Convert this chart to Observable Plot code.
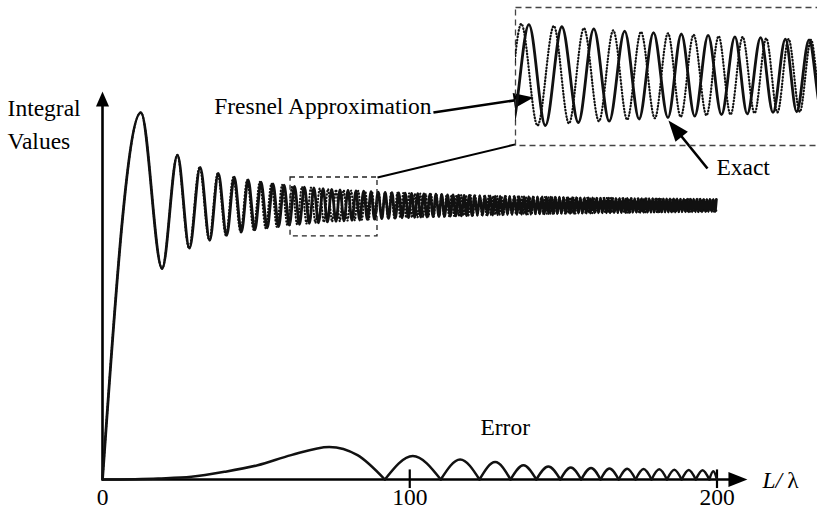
<!DOCTYPE html>
<html><head><meta charset="utf-8">
<script src="https://cdn.jsdelivr.net/npm/d3@7"></script>
<script src="https://cdn.jsdelivr.net/npm/@observablehq/plot@0.6"></script>
<style>
html,body{margin:0;padding:0;background:#fff;overflow:hidden;}
#wrap{position:relative;width:817px;height:510px;overflow:hidden;background:#fff;}
#insetBox{position:absolute;left:513px;top:5px;width:330px;height:142px;}
</style></head><body><div id="wrap"><div id="mainBox"></div><div id="insetBox"></div></div>
<script>
// ---- Exact integral: extrema (L/lambda, value) ----
const exactX = [0, 12.5, 19.4,
 24.4, 28.3, 31.8, 34.9, 37.7, 40.4, 42.9, 45.2, 47.4, 49.6, 51.6,
 53.6, 55.5, 57.3, 59.1, 60.8, 62.5, 64.1, 65.7, 67.3, 68.8,
 70.3, 71.8, 73.2, 74.6, 76.0, 77.3, 78.6, 79.9, 81.2, 82.5,
 83.7, 85.0, 86.2, 87.4, 88.5, 89.7, 90.9, 92.0, 93.1, 94.2,
 95.3, 96.4, 97.5, 98.5, 99.6, 100.6, 101.6, 102.6, 103.6, 104.6,
 105.6, 106.6, 107.6, 108.5, 109.5, 110.4, 111.3, 112.3, 113.2, 114.1,
 115.0, 115.9, 116.8, 117.7, 118.5, 119.4, 120.3, 121.1, 122.0, 122.8,
 123.7, 124.5, 125.3, 126.2, 127.0, 127.8, 128.6, 129.4, 130.2, 131.0,
 131.8, 132.5, 133.3, 134.1, 134.9, 135.6, 136.4, 137.2, 137.9, 138.7,
 139.4, 140.1, 140.9, 141.6, 142.3, 143.1, 143.8, 144.5, 145.2, 145.9,
 146.6, 147.3, 148.0, 148.7, 149.4, 150.1, 150.8, 151.5, 152.2, 152.9,
 153.5, 154.2, 154.9, 155.5, 156.2, 156.9, 157.5, 158.2, 158.8, 159.5,
 160.1, 160.8, 161.4, 162.1, 162.7, 163.3, 164.0, 164.6, 165.2, 165.8,
 166.5, 167.1, 167.7, 168.3, 168.9, 169.5, 170.2, 170.8, 171.4, 172.0,
 172.6, 173.2, 173.8, 174.4, 175.0, 175.5, 176.1, 176.7, 177.3, 177.9,
 178.5, 179.1, 179.6, 180.2, 180.8, 181.3, 181.9, 182.5, 183.1, 183.6,
 184.2, 184.7, 185.3, 185.9, 186.4, 187.0, 187.5, 188.1, 188.6, 189.2,
 189.7, 190.3, 190.8, 191.3, 191.9, 192.4, 193.0, 193.5, 194.0, 194.6,
 195.1, 195.6, 196.2, 196.7, 197.2, 197.7, 198.3, 198.8, 199.3, 199.8];
const exactY = [0, 133.9, 77.0,
 118.4, 84.4, 113.9, 87.3, 111.7, 89.1, 110.3, 90.3, 109.3, 91.1, 108.5,
 91.8, 107.9, 92.3, 107.4, 92.8, 107.0, 93.1, 106.7, 93.5, 106.4,
 93.7, 106.1, 94.0, 105.9, 94.2, 105.7, 94.4, 105.5, 94.6, 105.3,
 94.7, 105.2, 94.9, 105.0, 95.0, 104.9, 95.2, 104.8, 95.3, 104.7,
 95.4, 104.6, 95.5, 104.5, 95.6, 104.4, 95.7, 104.3, 95.8, 104.2,
 95.8, 104.1, 95.9, 104.1, 96.0, 104.0, 96.0, 103.9, 96.1, 103.9,
 96.2, 103.8, 96.2, 103.7, 96.3, 103.7, 96.3, 103.6, 96.4, 103.6,
 96.4, 103.5, 96.5, 103.5, 96.5, 103.4, 96.6, 103.4, 96.6, 103.4,
 96.7, 103.3, 96.7, 103.3, 96.7, 103.2, 96.8, 103.2, 96.8, 103.2,
 96.8, 103.1, 96.9, 103.1, 96.9, 103.1, 96.9, 103.0, 97.0, 103.0,
 97.0, 103.0, 97.0, 103.0, 97.1, 102.9, 97.1, 102.9, 97.1, 102.9,
 97.1, 102.9, 97.2, 102.8, 97.2, 102.8, 97.2, 102.8, 97.2, 102.8,
 97.3, 102.7, 97.3, 102.7, 97.3, 102.7, 97.3, 102.7, 97.3, 102.7,
 97.4, 102.6, 97.4, 102.6, 97.4, 102.6, 97.4, 102.6, 97.4, 102.6,
 97.5, 102.5, 97.5, 102.5, 97.5, 102.5, 97.5, 102.5, 97.5, 102.5,
 97.5, 102.5, 97.6, 102.4, 97.6, 102.4, 97.6, 102.4, 97.6, 102.4,
 97.6, 102.4, 97.6, 102.4, 97.6, 102.4, 97.7, 102.3, 97.7, 102.3,
 97.7, 102.3, 97.7, 102.3, 97.7, 102.3, 97.7, 102.3, 97.7, 102.3,
 97.7, 102.2, 97.8, 102.2, 97.8, 102.2, 97.8, 102.2, 97.8, 102.2];

// ---- Fresnel approximation: extrema ----
const fresnelX = [0, 12.5, 19.4,
 24.35, 28.15, 31.58, 34.73, 37.48, 40.17, 42.55, 44.94, 47.07, 49.19, 51.18,
 53.09, 54.99, 56.73, 58.46, 60.18, 61.76, 63.34, 64.92, 66.39, 67.84,
 69.30, 70.69, 72.04, 73.38, 74.73, 76.00, 77.24, 78.49, 79.74, 80.92,
 82.08, 83.25, 84.41, 85.54, 86.63, 87.71, 88.80, 89.89, 90.92, 91.94,
 92.96, 93.98, 95.00, 95.96, 96.92, 97.88, 98.84, 99.80, 100.72, 101.62,
 102.53, 103.43, 104.34, 105.23, 106.09, 106.95, 107.80, 108.66, 109.52, 110.36,
 111.17, 111.98, 112.79, 113.60, 114.41, 115.21, 115.98, 116.75, 117.52, 118.29,
 119.06, 119.84, 120.58, 121.31, 122.05, 122.78, 123.52, 124.25, 124.98, 125.68,
 126.38, 127.08, 127.78, 128.48, 129.18, 129.88, 130.56, 131.22, 131.89, 132.56,
 133.23, 133.90, 134.56, 135.22, 135.86, 136.50, 137.14, 137.78, 138.42, 139.06,
 139.70, 140.32, 140.94, 141.55, 142.16, 142.78, 143.39, 144.00, 144.61, 145.22,
 145.81, 146.40, 146.99, 147.58, 148.17, 148.75, 149.34, 149.93, 150.50, 151.07,
 151.63, 152.20, 152.77, 153.33, 153.90, 154.47, 155.03, 155.58, 156.12, 156.67,
 157.21, 157.76, 158.30, 158.85, 159.39, 159.94, 160.47, 160.99, 161.52, 162.05,
 162.57, 163.10, 163.62, 164.15, 164.68, 165.20, 165.71, 166.21, 166.72, 167.23,
 167.74, 168.24, 168.75, 169.26, 169.77, 170.27, 170.76, 171.25, 171.74, 172.23,
 172.72, 173.21, 173.70, 174.19, 174.68, 175.18, 175.65, 176.13, 176.60, 177.08,
 177.55, 178.03, 178.50, 178.98, 179.45, 179.93, 180.39, 180.85, 181.32, 181.78,
 182.24, 182.70, 183.16, 183.62, 184.08, 184.54, 185.00, 185.45, 185.90, 186.34,
 186.79, 187.24, 187.68, 188.13, 188.58, 189.02, 189.47, 189.92, 190.36, 190.79,
 191.22, 191.66, 192.09, 192.53, 192.96, 193.40, 193.83, 194.27, 194.70, 195.13,
 195.55, 195.97, 196.40, 196.82, 197.24, 197.66, 198.08, 198.50, 198.92, 199.34,
 199.77];
const fresnelY = [0, 133.9, 77.0,
 118.4, 84.4, 113.9, 87.3, 111.7, 89.1, 110.3, 90.3, 109.3, 91.1, 108.6,
 91.7, 108.0, 92.2, 107.5, 92.7, 107.1, 93.1, 106.8, 93.4, 106.5,
 93.7, 106.2, 93.9, 106.0, 94.1, 105.8, 94.3, 105.6, 94.5, 105.4,
 94.6, 105.3, 94.8, 105.1, 94.9, 105.0, 95.0, 104.9, 95.2, 104.8,
 95.3, 104.7, 95.4, 104.6, 95.5, 104.5, 95.5, 104.4, 95.6, 104.3,
 95.7, 104.3, 95.8, 104.2, 95.9, 104.1, 95.9, 104.0, 96.0, 104.0,
 96.0, 103.9, 96.1, 103.9, 96.2, 103.8, 96.2, 103.8, 96.3, 103.7,
 96.3, 103.7, 96.4, 103.6, 96.4, 103.6, 96.4, 103.5, 96.5, 103.5,
 96.5, 103.5, 96.6, 103.4, 96.6, 103.4, 96.6, 103.4, 96.7, 103.3,
 96.7, 103.3, 96.7, 103.3, 96.8, 103.2, 96.8, 103.2, 96.8, 103.2,
 96.9, 103.1, 96.9, 103.1, 96.9, 103.1, 96.9, 103.1, 97.0, 103.0,
 97.0, 103.0, 97.0, 103.0, 97.0, 103.0, 97.1, 102.9, 97.1, 102.9,
 97.1, 102.9, 97.1, 102.9, 97.1, 102.8, 97.2, 102.8, 97.2, 102.8,
 97.2, 102.8, 97.2, 102.8, 97.2, 102.8, 97.3, 102.7, 97.3, 102.7,
 97.3, 102.7, 97.3, 102.7, 97.3, 102.7, 97.3, 102.6, 97.4, 102.6,
 97.4, 102.6, 97.4, 102.6, 97.4, 102.6, 97.4, 102.6, 97.4, 102.6,
 97.5, 102.5, 97.5, 102.5, 97.5, 102.5, 97.5, 102.5, 97.5, 102.5,
 97.5, 102.5, 97.5, 102.5, 97.5, 102.4, 97.6, 102.4, 97.6, 102.4,
 97.6, 102.4, 97.6, 102.4, 97.6, 102.4, 97.6, 102.4, 97.6, 102.4,
 97.6, 102.3, 97.7, 102.3, 97.7, 102.3, 97.7, 102.3, 97.7, 102.3,
 97.7, 102.3, 97.7, 102.3, 97.7, 102.3, 97.7, 102.3, 97.7, 102.3,
 97.7, 102.2, 97.8, 102.2, 97.8, 102.2, 97.8, 102.2, 97.8, 102.2,
 97.8];

// ---- Error curve (zeros are cusps) ----
const errorX = [0, 18.1, 28.9, 39.7, 50.5, 61.4, 73.8, 83.0, 91.9,
 101.0, 110.1, 116.4, 122.7, 127.8, 132.8, 137.0, 141.2, 145.1, 149.0,
 152.4, 155.8, 159.0, 162.1, 165.0, 168.0, 170.8, 173.5, 176.1, 178.7,
 181.2, 183.7, 186.1, 188.5, 190.8, 193.1, 195.3, 197.5, 198.8, 200.0];
const errorY = [0, 0.4, 1.0, 2.8, 5.2, 8.9, 11.9, 8.9, 0,
 8.6, 0, 7.3, 0, 6.4, 0, 5.2, 0, 4.7, 0,
 4.4, 0, 4.2, 0, 4.0, 0, 3.9, 0, 3.8, 0,
 3.7, 0, 3.6, 0, 3.5, 0, 3.4, 0, 3.0, 0];

// ---- Axis ticks and zoom window ----
const tickValues = [0, 100, 200];
const tickLabels = ["0", "100", "200"];
const zoomX = [61.2, 89.5];
const zoomY = [88.7, 110.2];

// ---- tables ----
const exact = exactX.slice(0, Math.min(exactX.length, exactY.length)).map((x, i) => ({x, y: exactY[i]}));
const fresnel = fresnelX.slice(0, Math.min(fresnelX.length, fresnelY.length)).map((x, i) => ({x, y: fresnelY[i]}));
const errorPts = [];
let arch = 0;
errorX.forEach((x, i) => {
  const y = errorY[i];
  errorPts.push({x, y, arch});
  if (y === 0 && i > 0 && i < errorX.length - 1) { arch++; errorPts.push({x, y, arch}); }
});

// filled arrowhead symbol: tip at origin, pointing along screen direction (dx, dy)
function head(dx, dy, L, W) {
  const n = Math.hypot(dx, dy), ux = dx / n, uy = dy / n;
  const bx = -ux * L, by = -uy * L, px = -uy * W / 2, py = ux * W / 2;
  return {draw(ctx) { ctx.moveTo(0, 0); ctx.lineTo(bx + px, by + py); ctx.lineTo(bx - px, by - py); ctx.closePath(); }};
}

const serif = "Liberation Serif, Times New Roman, serif";
const FS = 23.5;
const T = (label, x, y, anchor, extra = {}) =>
  Plot.text([label], {x, y, text: d => d, textAnchor: anchor, lineAnchor: "middle", fontFamily: serif, fontSize: FS, fill: "black", ...extra});

const main = Plot.plot({
  width: 817, height: 510,
  marginLeft: 102, marginRight: 100.5, marginTop: 0, marginBottom: 31,
  x: {domain: [0, 200], axis: null},
  y: {domain: [0, 174.8], axis: null},
  style: {background: "transparent", maxWidth: "none"},
  marks: [
    Plot.ruleY([0], {x1: 0, x2: 207, stroke: "black", strokeWidth: 2.6}),
    Plot.ruleX([0], {y1: 0, y2: 137, stroke: "black", strokeWidth: 2.6}),
    Plot.dot([0], {x: 209.9, y: 0, symbol: head(1, 0, 19, 15), fill: "black", stroke: "none", r: 5}),
    Plot.dot([0], {x: 0, y: 141.6, symbol: head(0, -1, 15, 13), fill: "black", stroke: "none", r: 5}),
    Plot.ruleX(tickValues.slice(1), {y1: -3.3, y2: 3.5, stroke: "black", strokeWidth: 2.2}),
    Plot.text(tickValues, {x: d => d, y: -6.6, text: (d, i) => tickLabels[i], lineAnchor: "middle", fontFamily: serif, fontSize: FS, fill: "black"}),
    Plot.line(fresnel, {x: "x", y: "y", curve: "monotone-x", stroke: "#111", strokeWidth: 2.1, strokeDasharray: "0.5,2.8", strokeLinecap: "round"}),
    Plot.line(exact, {x: "x", y: "y", curve: "monotone-x", stroke: "#111", strokeWidth: 2.8}),
    Plot.line(errorPts, {x: "x", y: "y", z: "arch", curve: "monotone-x", stroke: "#111", strokeWidth: 2.5}),
    Plot.rect([0], {x1: zoomX[0], x2: zoomX[1], y1: zoomY[0], y2: zoomY[1], fill: "none", stroke: "#222", strokeWidth: 1.3, strokeDasharray: "5,4"}),
    Plot.link([0], {x1: 89.5, y1: 110.2, x2: 134.4, y2: 122.3, stroke: "black", strokeWidth: 2}),
    Plot.link([0], {x1: 107.7, y1: 133.9, x2: 135.5, y2: 138.6, stroke: "black", strokeWidth: 2.6}),
    Plot.dot([0], {x: 140.3, y: 139.4, symbol: head(100, -15, 20, 15), fill: "black", stroke: "none", r: 5}),
    Plot.link([0], {x1: 196.9, y1: 113.5, x2: 187.3, y2: 126.8, stroke: "black", strokeWidth: 2.6}),
    Plot.dot([0], {x: 184.2, y: 131.0, symbol: head(-39, -48, 21, 16), fill: "black", stroke: "none", r: 5}),
    T("Integral", -30.9, 135.4, "start"),
    T("Values", -30.9, 123.4, "start"),
    T("Fresnel Approximation", 107.1, 136.1, "end"),
    T("Exact", 199.8, 113.9, "start"),
    T("Error", 123.0, 19.0, "start"),
    T("L/", 214.8, -0.3, "start", {fontStyle: "italic"}),
    T("λ", 222.9, -0.3, "start")
  ]
});
document.getElementById("mainBox").appendChild(main);

const inset = Plot.plot({
  width: 330, height: 142,
  marginTop: 2, marginBottom: 2, marginLeft: 2, marginRight: 2,
  x: {domain: [61.2, 92.85], axis: null},
  y: {domain: [90.35, 109.35], axis: null},
  style: {background: "transparent", maxWidth: "none"},
  marks: [
    Plot.frame({stroke: "#444", strokeWidth: 1.3, strokeDasharray: "6,4"}),
    Plot.line(fresnel, {x: "x", y: "y", curve: "monotone-x", stroke: "#111", strokeWidth: 2.2, strokeDasharray: "0.6,2.6", strokeLinecap: "round", clip: true}),
    Plot.line(exact, {x: "x", y: "y", curve: "monotone-x", stroke: "#111", strokeWidth: 2.8, clip: true})
  ]
});
document.getElementById("insetBox").appendChild(inset);
</script>
</body></html>
